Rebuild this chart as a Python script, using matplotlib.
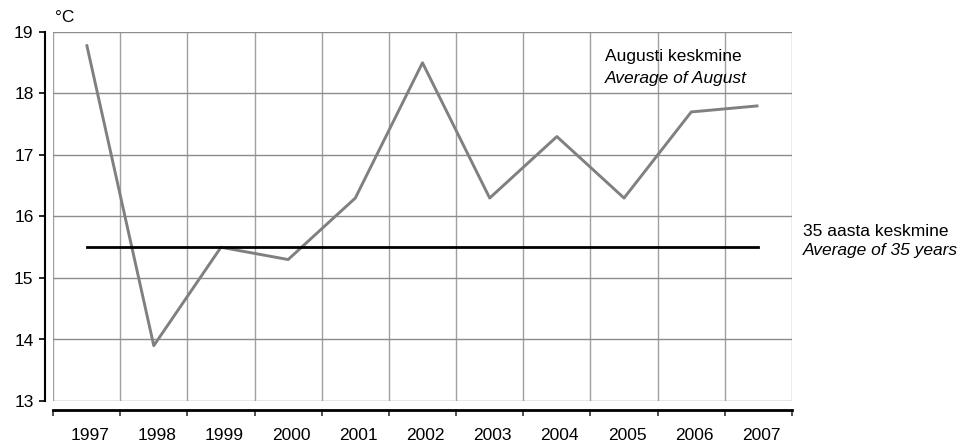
import matplotlib
matplotlib.use('Agg')
import matplotlib.pyplot as plt
import matplotlib.transforms as mtransforms
from matplotlib.ticker import FixedLocator, NullFormatter, FixedFormatter

plt.rcParams['font.family'] = ['Liberation Sans', 'DejaVu Sans']

years = ['1997', '1998', '1999', '2000', '2001', '2002', '2003', '2004', '2005', '2006', '2007']
august_avg = [18.8, 13.9, 15.5, 15.3, 16.3, 18.5, 16.3, 17.3, 16.3, 17.7, 17.8]
avg_35_years = 15.5

W, H = 968, 443
fig = plt.figure(figsize=(W / 100, H / 100), dpi=100)
# plot area in pixels: x 53..792, y 32..401
ax = fig.add_axes([53 / W, 1 - 401 / H, (792 - 53) / W, (401 - 32) / H])

xs = [i + 0.5 for i in range(len(years))]
ax.plot(xs, august_avg, color='#808080', lw=2.1, solid_capstyle='butt', zorder=3)
ax.plot([xs[0], xs[-1]], [avg_35_years, avg_35_years], color='black', lw=2.0, zorder=3)

ax.set_xlim(0, len(years))
ax.set_ylim(13, 19)

# grid
for i in range(len(years) + 1):
    ax.axvline(i, color='#a0a0a0', lw=1, zorder=1)
for v in range(13, 20):
    ax.axhline(v, color='#8c8c8c', lw=1, zorder=1)

for s in ['top', 'right']:
    ax.spines[s].set_visible(False)
ax.spines['left'].set_position(('outward', 6))
ax.spines['bottom'].set_position(('outward', 6.5))
ax.spines['left'].set_linewidth(1.5)
ax.spines['bottom'].set_linewidth(2)

ax.set_yticks(range(13, 20))
ax.tick_params(axis='y', length=4, width=1.2, labelsize=12.5, pad=4)

ax.xaxis.set_major_locator(FixedLocator(range(len(years) + 1)))
ax.xaxis.set_major_formatter(NullFormatter())
ax.xaxis.set_minor_locator(FixedLocator(xs))
ax.xaxis.set_minor_formatter(FixedFormatter(years))
ax.tick_params(axis='x', which='major', length=4.5, width=1.2, color='#333333')
ax.tick_params(axis='x', which='minor', length=0, labelsize=12.5, pad=13)
shift = mtransforms.ScaledTranslation(3 / 100, 0, fig.dpi_scale_trans)
for lbl in ax.xaxis.get_minorticklabels():
    lbl.set_transform(lbl.get_transform() + shift)

fig.text(55 / W, 1 - 17 / H, '°C', fontsize=12.5, va='center', ha='left')
fig.text(605 / W, 1 - 56 / H, 'Augusti keskmine', fontsize=12.5, va='center', ha='left')
fig.text(605 / W, 1 - 78 / H, 'Average of August', fontsize=12.5, va='center', ha='left', style='italic')
fig.text(803 / W, 1 - 231 / H, '35 aasta keskmine', fontsize=12.5, va='center', ha='left')
fig.text(803 / W, 1 - 251 / H, 'Average of 35 years', fontsize=12.5, va='center', ha='left', style='italic')

fig.savefig('out.png', dpi=100)
